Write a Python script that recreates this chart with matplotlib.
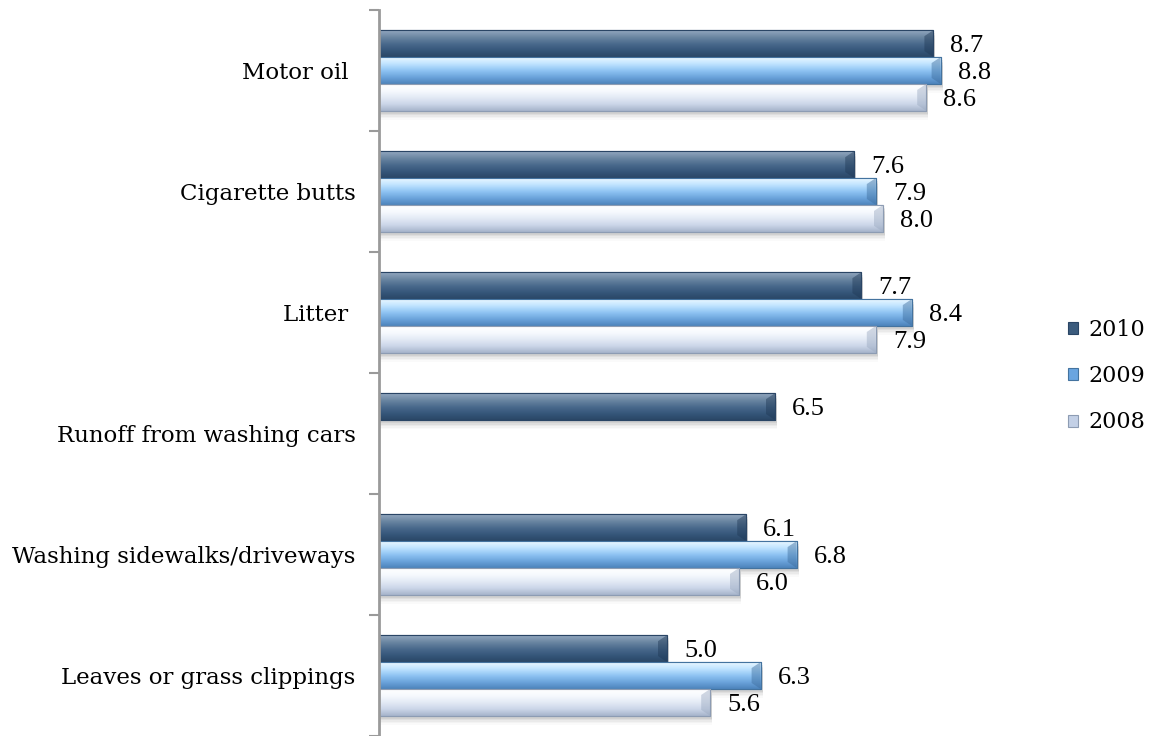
import numpy as np
import matplotlib
matplotlib.use("Agg")
import matplotlib.pyplot as plt
from matplotlib.colors import LinearSegmentedColormap
from matplotlib.patches import Patch, Polygon

# Survey data: perceived pollution sources
categories = ["Motor oil ", "Cigarette butts", "Litter ", "Runoff from washing cars",
              "Washing sidewalks/driveways", "Leaves or grass clippings"]
years = ["2010", "2009", "2008"]
values_2010 = [8.7, 7.6, 7.7, 6.5, 6.1, 5.0]
values_2009 = [8.8, 7.9, 8.4, np.nan, 6.8, 6.3]
values_2008 = [8.6, 8.0, 7.9, np.nan, 6.0, 5.6]
series = [values_2010, values_2009, values_2008]

# Vertical gradient stops (top -> bottom) for each series, plus edge and legend colours
gradients = [
    ["#93a8bf", "#6c87a3", "#4b6b8d", "#36577b", "#2a4767"],
    ["#eaf8ff", "#bfe3ff", "#8fc4f3", "#6ba3db", "#4d84bc"],
    ["#ffffff", "#f6f9fe", "#e3eaf5", "#cbd6e8", "#a6b4cb"],
]
edges = ["#2a4565", "#44739f", "#8d9cb3"]
legend_faces = ["#3b5b7d", "#6aa5e0", "#c3d0e6"]
bevel_colors = ["#1f3855", "#3d6c9c", "#9aa9c0"]

label_font = ["DejaVu Serif"]
value_font = ["Liberation Serif", "DejaVu Serif"]

fig = plt.figure(figsize=(11.56, 7.36), dpi=100)
W, H = 1156, 736
ax = fig.add_axes([379 / W, 0.0, (1027 - 379) / W, (736 - 10) / H])

n = len(categories)
y = np.arange(n)
bar_h = 1.0 / 1.5 / 3
offsets = [-bar_h, 0.0, bar_h]

ax.set_xlim(1, 10)
ax.set_ylim(n - 0.5, -0.5)

px_x = 9.0 / (1027 - 379)       # data units per pixel, horizontal
px_y = n / (736 - 10)           # data units per pixel, vertical

for s, (vals, grad, ec, bc) in enumerate(zip(series, gradients, edges, bevel_colors)):
    cmap = LinearSegmentedColormap.from_list(f"g{s}", grad)
    grad_img = np.linspace(0, 1, 64).reshape(-1, 1)
    for i, v in enumerate(vals):
        if np.isnan(v):
            continue
        yc = y[i] + offsets[s]
        # soft drop shadow
        for k, a in enumerate([0.10, 0.08, 0.06, 0.04, 0.03]):
            ax.barh(yc + (3 + k * 1.5) * px_y, v - 1 + 2 * px_x, left=1, height=bar_h,
                    color="#606060", alpha=a, linewidth=0, zorder=1)
        bars = ax.barh(yc, v - 1, left=1, height=bar_h, color=grad[2],
                       edgecolor=ec, linewidth=0.8, zorder=2 + s * 0.1)
        patch = bars.patches[0]
        y0, y1 = yc - bar_h / 2, yc + bar_h / 2
        im = ax.imshow(grad_img, cmap=cmap, aspect="auto", extent=(1, v, y1, y0),
                       zorder=2.01 + s * 0.1, interpolation="bilinear")
        im.set_clip_path(patch)
        # bevelled right end
        bw, bh = 9 * px_x, 6 * px_y
        bevel = Polygon([(v - bw, y0 + bh), (v, y0), (v, y1), (v - bw, y1 - bh)],
                        closed=True, facecolor=bc, alpha=0.45, linewidth=0,
                        zorder=2.02 + s * 0.1)
        ax.add_patch(bevel)
        # outline above gradient
        ax.barh(yc, v - 1, left=1, height=bar_h, fill=False, edgecolor=ec,
                linewidth=0.8, zorder=2.03 + s * 0.1)
        ax.text(v + 17 * px_x, yc + 2.5 * px_y, f"{v:.1f}", ha="left", va="center",
                fontsize=19, family=value_font, color="#000000", zorder=5)

# axes styling
for side in ["top", "right", "bottom"]:
    ax.spines[side].set_visible(False)
ax.spines["left"].set_color("#9a9a9a")
ax.spines["left"].set_linewidth(2)
ax.spines["left"].set_zorder(6)
ax.set_xticks([])
ax.set_yticks(y)
ax.set_yticklabels(categories, fontsize=16.5, family=label_font)
ax.tick_params(axis="y", which="major", length=0, pad=17)
ax.set_yticks(np.arange(-0.5, n + 0.5, 1), minor=True)
ax.tick_params(axis="y", which="minor", length=7, width=1.5, color="#9a9a9a")

handles = [Patch(facecolor=fc, edgecolor=ec, linewidth=0.8) for fc, ec in zip(legend_faces, edges)]
fig.legend(handles, years, loc="center left", bbox_to_anchor=(1068 / W, 1 - 376 / H),
           frameon=False, prop={"family": label_font, "size": 16},
           handlelength=0.45, handleheight=0.45, handletextpad=0.45,
           labelspacing=1.1, borderaxespad=0, borderpad=0)

fig.savefig("out.png", dpi=100)
